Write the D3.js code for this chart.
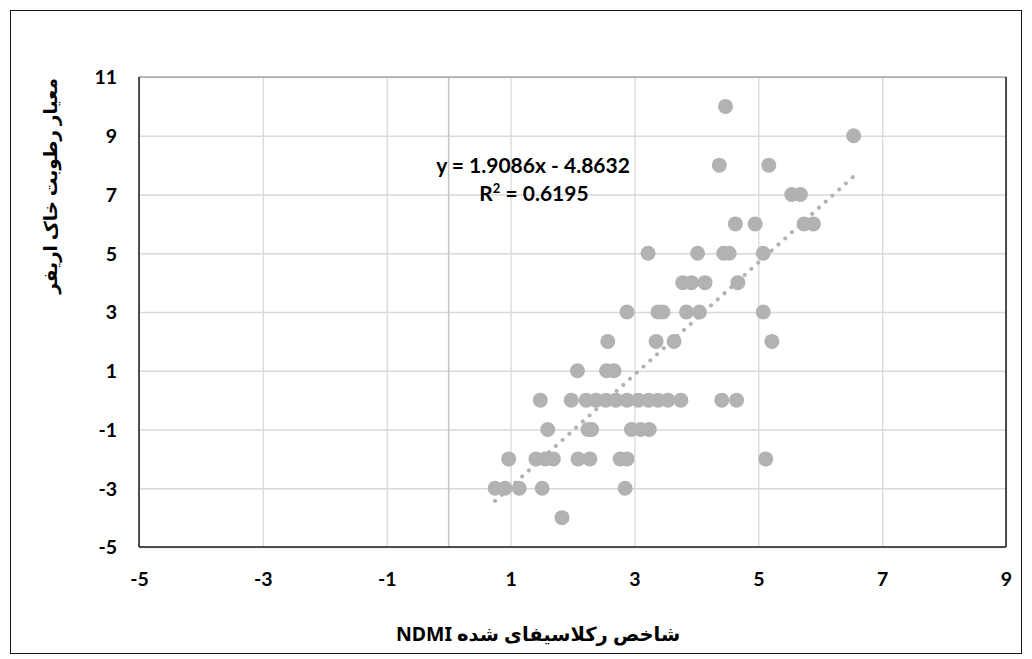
<!DOCTYPE html>
<html><head><meta charset="utf-8">
<script src="https://cdn.jsdelivr.net/npm/d3@7/dist/d3.min.js"></script>
<style>html,body{margin:0;padding:0;background:#fff;}svg{display:block;}</style>
</head><body>
<svg id="c" width="1032" height="659"></svg>
<script>
// data
const pointsX = [4.47, 6.54, 4.37, 5.17, 5.54, 5.68, 4.63, 4.95, 5.74, 5.89,
  3.22, 4.02, 4.44, 4.53, 5.08, 3.78, 3.92, 4.14, 4.67,
  2.88, 3.38, 3.46, 3.84, 4.05, 5.08, 2.57, 3.35, 3.64, 5.22,
  2.08, 2.55, 2.67,
  1.48, 1.98, 2.22, 2.38, 2.54, 2.70, 2.88, 3.06, 3.23, 3.38, 3.54, 3.75, 4.41, 4.65,
  1.60, 2.25, 2.31, 2.95, 3.10, 3.24,
  0.97, 1.41, 1.56, 1.69, 2.09, 2.28, 2.77, 2.88, 5.12,
  0.75, 0.91, 1.14, 1.51, 2.85,
  1.83];
const pointsY = [10, 9, 8, 8, 7, 7, 6, 6, 6, 6,
  5, 5, 5, 5, 5, 4, 4, 4, 4,
  3, 3, 3, 3, 3, 3, 2, 2, 2, 2,
  1, 1, 1,
  0, 0, 0, 0, 0, 0, 0, 0, 0, 0, 0, 0, 0, 0,
  -1, -1, -1, -1, -1, -1,
  -2, -2, -2, -2, -2, -2, -2, -2, -2,
  -3, -3, -3, -3, -3,
  -4];
const xTicks = [-5, -3, -1, 1, 3, 5, 7, 9];
const yTicks = [-5, -3, -1, 1, 3, 5, 7, 9, 11];
const trendSlope = 1.9086, trendIntercept = -4.8632;
const eqLabel = "y = 1.9086x - 4.8632";
const r2Value = "0.6195";
const xTitle = "شاخص رکلاسیفای شده NDMI";
const yTitle = "معیار رطوبت خاک اریفر";

const svg = d3.select("#c");
const L = 139, R = 1006, T = 77, B = 547;
const x = d3.scaleLinear().domain([-5, 9]).range([L, R]);
const y = d3.scaleLinear().domain([-5, 11]).range([B, T]);
const font = "Lato, 'Open Sans', sans-serif";
const fmt = d => String(d);

svg.append("rect").attr("x", 0).attr("y", 0).attr("width", 1032).attr("height", 659).attr("fill", "#fff");
svg.append("rect").attr("x", 10.5).attr("y", 10.5).attr("width", 1011).attr("height", 643)
  .attr("fill", "none").attr("stroke", "#1a1a1a").attr("stroke-width", 1);

// gridlines
const gx = svg.append("g").attr("transform", `translate(0,${B})`)
  .call(d3.axisBottom(x).tickValues(xTicks).tickSize(-(B - T)).tickFormat(""));
gx.select(".domain").remove();
gx.selectAll("line").attr("stroke", "#d9d9d9").attr("stroke-width", 1.3);
const gy = svg.append("g").attr("transform", `translate(${L},0)`)
  .call(d3.axisLeft(y).tickValues(yTicks).tickSize(-(R - L)).tickFormat(""));
gy.select(".domain").remove();
gy.selectAll("line").attr("stroke", "#d9d9d9").attr("stroke-width", 1.3);
// vertical axis line at x = 0
svg.append("line").attr("x1", x(0)).attr("x2", x(0)).attr("y1", T).attr("y2", B)
  .attr("stroke", "#c4c4c4").attr("stroke-width", 1.5);

// plot border
svg.append("line").attr("x1", L).attr("x2", R).attr("y1", T).attr("y2", T).attr("stroke", "#a6a6a6").attr("stroke-width", 1.5);
svg.append("line").attr("x1", L).attr("x2", L).attr("y1", T).attr("y2", B).attr("stroke", "#1a1a1a").attr("stroke-width", 1.5);
svg.append("line").attr("x1", R).attr("x2", R).attr("y1", T).attr("y2", B).attr("stroke", "#1a1a1a").attr("stroke-width", 1.5);
svg.append("line").attr("x1", L).attr("x2", R).attr("y1", B).attr("y2", B).attr("stroke", "#1a1a1a").attr("stroke-width", 1.5);

// tick labels
const ax = svg.append("g").attr("transform", `translate(0,${B + 39})`)
  .call(d3.axisBottom(x).tickValues(xTicks).tickFormat(fmt).tickSize(0).tickPadding(0));
ax.select(".domain").remove();
ax.selectAll("text").attr("font-family", font).attr("font-weight", 700).attr("font-size", 19.5)
  .attr("fill", "#000").attr("dy", 0);
const ay = svg.append("g").attr("transform", `translate(${L - 22},0)`)
  .call(d3.axisLeft(y).tickValues(yTicks).tickFormat(fmt).tickSize(0).tickPadding(0));
ay.select(".domain").remove();
ay.selectAll("text").attr("font-family", font).attr("font-weight", 700).attr("font-size", 19.5)
  .attr("fill", "#000").attr("dy", "0.35em");

// points
const pts = pointsX.map((v, i) => ({ x: v, y: pointsY[i] }));
svg.append("g").selectAll("circle").data(pts).join("circle")
  .attr("cx", d => x(d.x)).attr("cy", d => y(d.y)).attr("r", 7.5)
  .attr("fill", "#b2b2b2");

// trendline
const xmin = d3.min(pointsX), xmax = d3.max(pointsX);
svg.append("path")
  .attr("d", d3.line().x(d => x(d)).y(d => y(trendSlope * d + trendIntercept))([xmin, xmax]))
  .attr("stroke", "#b2b2b2").attr("stroke-width", 4).attr("stroke-linecap", "round")
  .attr("stroke-dasharray", "0.1 9").attr("fill", "none");

// equation
svg.append("text").attr("x", 533).attr("y", 173).attr("text-anchor", "middle")
  .attr("font-family", font).attr("font-weight", 700).attr("font-size", 21).attr("fill", "#000")
  .text(eqLabel);
const r2 = svg.append("text").attr("x", 534).attr("y", 201).attr("text-anchor", "middle")
  .attr("font-family", font).attr("font-weight", 700).attr("font-size", 21).attr("fill", "#000");
r2.append("tspan").text("R");
r2.append("tspan").attr("font-size", 13).attr("dy", -8).text("2");
r2.append("tspan").attr("dy", 8).text(" = " + r2Value);

// axis titles
svg.append("text").attr("x", 538).attr("y", 641).attr("text-anchor", "middle")
  .attr("direction", "rtl")
  .attr("font-family", "'Noto Sans', 'DejaVu Sans', sans-serif").attr("font-weight", 700).attr("font-size", 19.5)
  .attr("fill", "#000").text(xTitle);
svg.append("text").attr("transform", "translate(57,186) rotate(-90)").attr("text-anchor", "middle")
  .attr("direction", "rtl")
  .attr("font-family", "'Noto Sans', 'DejaVu Sans', sans-serif").attr("font-weight", 700).attr("font-size", 18.5)
  .attr("fill", "#000").text(yTitle);
</script>
</body></html>
